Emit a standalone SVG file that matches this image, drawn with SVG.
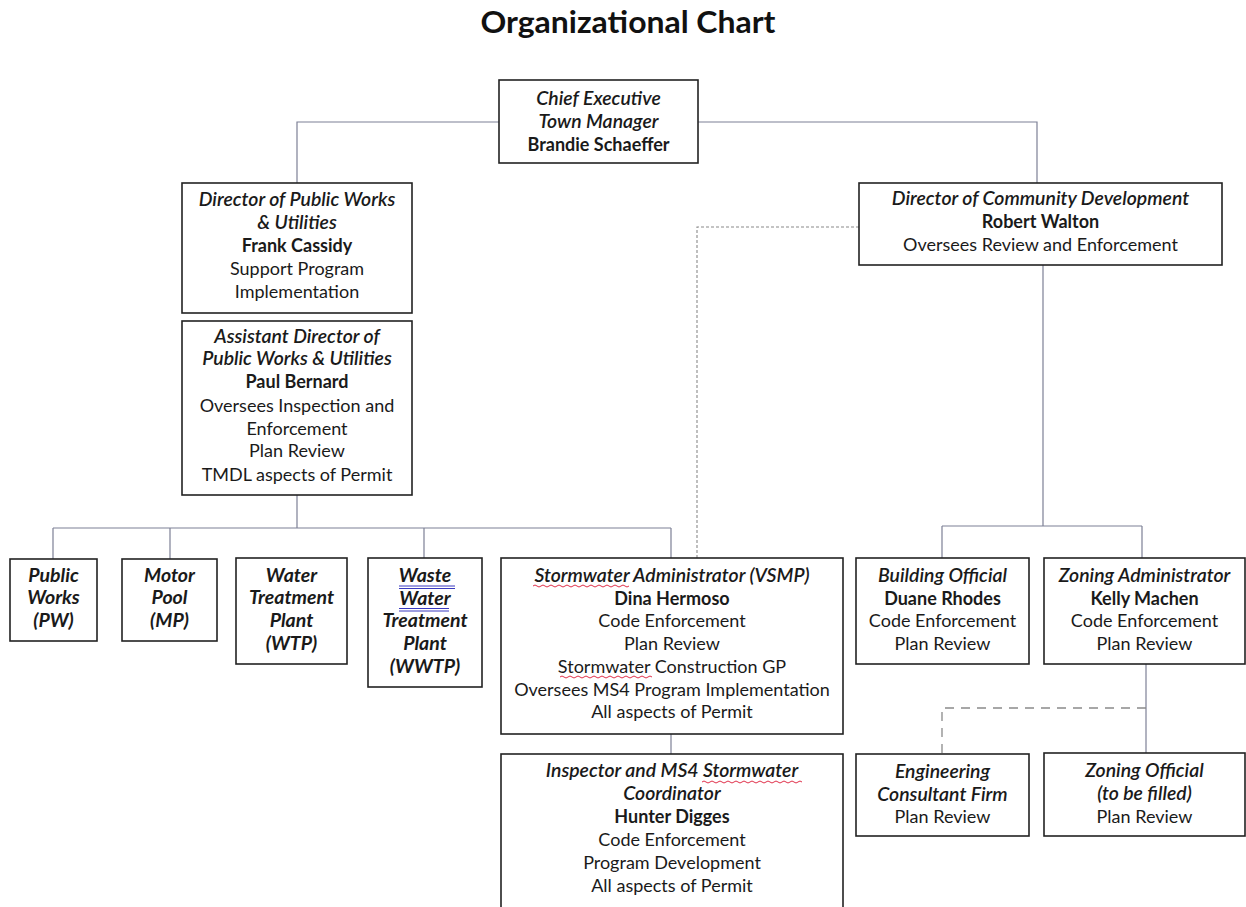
<svg xmlns="http://www.w3.org/2000/svg" width="1246" height="907" viewBox="0 0 1246 907">
<style>
.box{fill:#fff;stroke:#222;stroke-width:1.6}
.t{font-family:Lato,"Liberation Sans",sans-serif;font-size:18px;fill:#1a1a1a;text-anchor:middle}
.i{font-style:italic;font-weight:600;font-size:19.4px}
.b{font-weight:700}
.bi{font-style:italic;font-weight:700;font-size:19.5px}
.c{fill:none;stroke:#7d8096;stroke-width:1.2}
.d1{fill:none;stroke:#8a8a8a;stroke-width:1.1;stroke-dasharray:3 2}
.d2{fill:none;stroke:#8a8a8a;stroke-width:1.3;stroke-dasharray:9 7}
.sq{fill:none;stroke:#e0304a;stroke-width:1}
.ul{stroke:#3a3ac0;stroke-width:1}
</style>
<rect width="1246" height="907" fill="#fff"/>
<text x="628" y="33" font-family="Lato,'Liberation Sans',sans-serif" font-size="31" font-weight="700" text-anchor="middle" fill="#111" textLength="295" lengthAdjust="spacingAndGlyphs">Organizational Chart</text>

<g id="connectors">
<path class="c" d="M297,183 V122 H499"/>
<path class="c" d="M698,122 H1037 V183"/>
<path class="c" d="M297,495 V528 M53,528 H671 M53,528 V559 M170,528 V559 M424,528 V558 M671,528 V558"/>
<path class="c" d="M1043,265 V526 M942,526 H1142 M942,526 V558 M1142,526 V558"/>
<path class="c" d="M671,734 V754"/>
<path class="c" d="M1146,664 V753"/>
<path class="d1" d="M859,227 H697 V558"/>
<path class="d2" d="M1146,708 H942 V754"/>
</g>

<g id="chief">
<rect class="box" x="499" y="80" width="199" height="83"/>
<text class="t i" x="598.5" y="105">Chief Executive</text>
<text class="t i" x="598.5" y="128">Town Manager</text>
<text class="t b" x="598.5" y="151">Brandie Schaeffer</text>
</g>

<g id="dir-public-works">
<rect class="box" x="182" y="183" width="230" height="130"/>
<text class="t i" x="297" y="206">Director of Public Works</text>
<text class="t i" x="297" y="229">&amp; Utilities</text>
<text class="t b" x="297" y="252">Frank Cassidy</text>
<text class="t" x="297" y="275">Support Program</text>
<text class="t" x="297" y="298">Implementation</text>
</g>

<g id="asst-dir">
<rect class="box" x="182" y="321" width="230" height="174"/>
<text class="t i" x="297" y="343">Assistant Director of</text>
<text class="t i" x="297" y="365">Public Works &amp; Utilities</text>
<text class="t b" x="297" y="388">Paul Bernard</text>
<text class="t" x="297" y="412">Oversees Inspection and</text>
<text class="t" x="297" y="435">Enforcement</text>
<text class="t" x="297" y="457">Plan Review</text>
<text class="t" x="297" y="481">TMDL aspects of Permit</text>
</g>

<g id="dir-community">
<rect class="box" x="859" y="183" width="363" height="82"/>
<text class="t i" x="1040.5" y="205">Director of Community Development</text>
<text class="t b" x="1040.5" y="228">Robert Walton</text>
<text class="t" x="1040.5" y="251">Oversees Review and Enforcement</text>
</g>

<g id="public-works">
<rect class="box" x="10" y="559" width="87" height="82"/>
<text class="t bi" x="53.5" y="582">Public</text>
<text class="t bi" x="53.5" y="604">Works</text>
<text class="t bi" x="53.5" y="627">(PW)</text>
</g>

<g id="motor-pool">
<rect class="box" x="122" y="559" width="95" height="82"/>
<text class="t bi" x="169.5" y="582">Motor</text>
<text class="t bi" x="169.5" y="604">Pool</text>
<text class="t bi" x="169.5" y="627">(MP)</text>
</g>

<g id="wtp">
<rect class="box" x="236" y="558" width="111" height="106"/>
<text class="t bi" x="291.5" y="582">Water</text>
<text class="t bi" x="291.5" y="604">Treatment</text>
<text class="t bi" x="291.5" y="627">Plant</text>
<text class="t bi" x="291.5" y="650">(WTP)</text>
</g>

<g id="wwtp">
<rect class="box" x="368" y="558" width="114" height="129"/>
<text class="t bi" x="425" y="582">Waste</text>
<text class="t bi" x="425" y="605">Water</text>
<text class="t bi" x="425" y="627">Treatment</text>
<text class="t bi" x="425" y="650">Plant</text>
<text class="t bi" x="425" y="673">(WWTP)</text>
<path class="ul" d="M399,586 H455 M399,588.5 H455 M399,608.5 H449 M399,611 H449"/>
</g>

<g id="stormwater-admin">
<rect class="box" x="501" y="558" width="342" height="176"/>
<text class="t i" x="672" y="582">Stormwater Administrator (VSMP)</text>
<text class="t b" x="672" y="605">Dina Hermoso</text>
<text class="t" x="672" y="627">Code Enforcement</text>
<text class="t" x="672" y="650">Plan Review</text>
<text class="t" x="672" y="673">Stormwater Construction GP</text>
<text class="t" x="672" y="696">Oversees MS4 Program Implementation</text>
<text class="t" x="672" y="718">All aspects of Permit</text>
<path class="sq" d="M533,586 q2,-2 4,0 t4,0 t4,0 t4,0 t4,0 t4,0 t4,0 t4,0 t4,0 t4,0 t4,0 t4,0 t4,0 t4,0 t4,0 t4,0 t4,0 t4,0 t4,0 t4,0 t4,0 t4,0 t4,0 t4,0"/>
<path class="sq" d="M560,677 q2,-2 4,0 t4,0 t4,0 t4,0 t4,0 t4,0 t4,0 t4,0 t4,0 t4,0 t4,0 t4,0 t4,0 t4,0 t4,0 t4,0 t4,0 t4,0 t4,0 t4,0 t4,0 t4,0 t4,0"/>
</g>

<g id="building-official">
<rect class="box" x="856" y="558" width="173" height="106"/>
<text class="t i" x="942.5" y="582">Building Official</text>
<text class="t b" x="942.5" y="605">Duane Rhodes</text>
<text class="t" x="942.5" y="627">Code Enforcement</text>
<text class="t" x="942.5" y="650">Plan Review</text>
</g>

<g id="zoning-admin">
<rect class="box" x="1044" y="558" width="201" height="106"/>
<text class="t i" x="1144.5" y="582">Zoning Administrator</text>
<text class="t b" x="1144.5" y="605">Kelly Machen</text>
<text class="t" x="1144.5" y="627">Code Enforcement</text>
<text class="t" x="1144.5" y="650">Plan Review</text>
</g>

<g id="inspector">
<rect class="box" x="501" y="754" width="342" height="170"/>
<text class="t i" x="672" y="777">Inspector and MS4 Stormwater</text>
<text class="t i" x="672" y="800">Coordinator</text>
<text class="t b" x="672" y="823">Hunter Digges</text>
<text class="t" x="672" y="846">Code Enforcement</text>
<text class="t" x="672" y="869">Program Development</text>
<text class="t" x="672" y="892">All aspects of Permit</text>
<path class="sq" d="M702,782 q2,-2 4,0 t4,0 t4,0 t4,0 t4,0 t4,0 t4,0 t4,0 t4,0 t4,0 t4,0 t4,0 t4,0 t4,0 t4,0 t4,0 t4,0 t4,0 t4,0 t4,0 t4,0 t4,0 t4,0 t4,0 t4,0"/>
</g>

<g id="engineering">
<rect class="box" x="856" y="754" width="173" height="82"/>
<text class="t i" x="942.5" y="778">Engineering</text>
<text class="t i" x="942.5" y="801">Consultant Firm</text>
<text class="t" x="942.5" y="823">Plan Review</text>
</g>

<g id="zoning-official">
<rect class="box" x="1044" y="753" width="201" height="83"/>
<text class="t i" x="1144.5" y="777">Zoning Official</text>
<text class="t i" x="1144.5" y="800">(to be filled)</text>
<text class="t" x="1144.5" y="823">Plan Review</text>
</g>
</svg>
